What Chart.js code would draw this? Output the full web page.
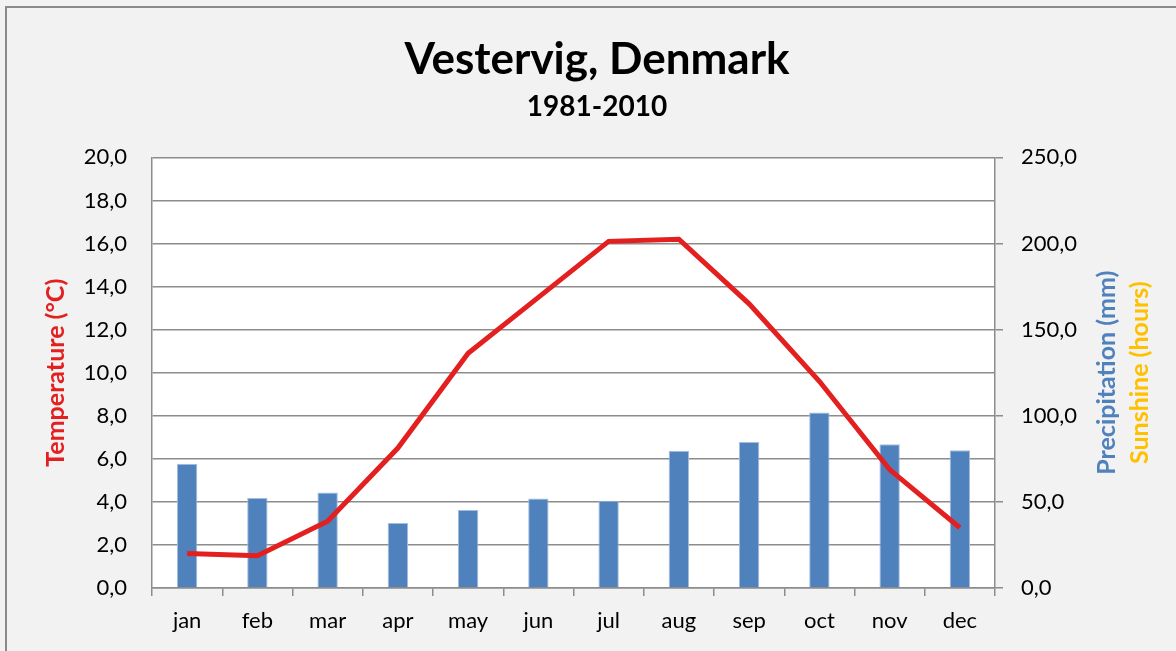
<!DOCTYPE html>
<html>
<head>
<meta charset="utf-8">
<title>Vestervig, Denmark</title>
<script src="https://cdn.jsdelivr.net/npm/chart.js@4.4.0/dist/chart.umd.min.js"></script>
<style>
  html, body { margin: 0; padding: 0; background: #f2f2f2; }
  canvas { display: block; }
</style>
</head>
<body>
<canvas id="climate" width="1176" height="651"></canvas>
<script>
// months and monthly normals
const months = ['jan', 'feb', 'mar', 'apr', 'may', 'jun', 'jul', 'aug', 'sep', 'oct', 'nov', 'dec'];
const temperature = [1.6, 1.5, 3.1, 6.5, 10.9, 13.5, 16.1, 16.2, 13.2, 9.6, 5.5, 2.8];
const precipitation = [72.2, 52.3, 55.4, 37.8, 45.3, 51.9, 50.7, 79.7, 84.7, 101.9, 83.5, 80.0];

const FONT = 'Lato';
const GRID = '#8c8c8c';

const fmt = v => v.toFixed(1).replace('.', ',');

// grey frame + white plot area + right hand axis titles
const decor = {
  id: 'decor',
  beforeDraw(chart) {
    const { ctx, chartArea: a } = chart;
    ctx.save();
    ctx.fillStyle = '#f2f2f2';
    ctx.fillRect(0, 0, chart.width, chart.height);
    ctx.strokeStyle = '#8a8a8a';
    ctx.lineWidth = 2;
    ctx.strokeRect(6, 7, chart.width + 10, chart.height + 10);
    ctx.fillStyle = '#ffffff';
    ctx.fillRect(a.left, a.top, a.right - a.left, a.bottom - a.top);
    ctx.restore();
  },
  afterDraw(chart) {
    const { ctx, chartArea: a } = chart;
    const cy = (a.top + a.bottom) / 2;
    ctx.save();
    ctx.font = 'bold 25px ' + FONT;
    ctx.textAlign = 'center';
    ctx.textBaseline = 'middle';
    ctx.translate(a.right + 112, cy);
    ctx.rotate(-Math.PI / 2);
    ctx.fillStyle = '#4f81bd';
    ctx.fillText('Precipitation (mm)', 0, 0);
    ctx.fillStyle = '#ffc000';
    ctx.fillText('Sunshine (hours)', 0, 33);
    ctx.restore();
  }
};

new Chart(document.getElementById('climate'), {
  data: {
    labels: months,
    datasets: [
      {
        type: 'line',
        label: 'Temperature',
        data: temperature,
        yAxisID: 'y',
        borderColor: '#e3201f',
        borderWidth: 5,
        pointRadius: 0,
        tension: 0,
        order: 1
      },
      {
        type: 'bar',
        label: 'Precipitation',
        data: precipitation,
        yAxisID: 'y2',
        backgroundColor: '#4f81bd',
        borderColor: '#a3bddf',
        borderWidth: 1,
        barPercentage: 0.29,
        categoryPercentage: 1,
        order: 2
      }
    ]
  },
  options: {
    responsive: false,
    animation: false,
    // left padding nudges the centred titles right, as in the original
    layout: { padding: { left: 18, right: 0, top: 0, bottom: 0 } },
    plugins: {
      legend: { display: false },
      tooltip: { enabled: false },
      title: {
        display: true,
        text: 'Vestervig, Denmark',
        color: '#000',
        font: { family: FONT, size: 44, weight: 'bold', lineHeight: 1.2 },
        padding: { top: 33, bottom: 0 }
      },
      subtitle: {
        display: true,
        text: '1981-2010',
        color: '#000',
        font: { family: FONT, size: 28, weight: 'bold', lineHeight: 1.2 },
        padding: { top: 4, bottom: 34 }
      }
    },
    scales: {
      x: {
        grid: { drawOnChartArea: false, drawTicks: true, tickLength: 8, color: GRID, lineWidth: 1.5 },
        border: { display: true, color: GRID, width: 1.5 },
        ticks: { color: '#000', font: { family: FONT, size: 22 }, padding: 12, maxRotation: 0 },
        afterFit(s) { s.height = 63; }
      },
      y: {
        position: 'left',
        min: 0,
        max: 20,
        ticks: { stepSize: 2, color: '#000', font: { family: FONT, size: 22 }, padding: 25, callback: fmt },
        grid: { color: GRID, lineWidth: 1.5, drawTicks: false },
        border: { display: true, color: GRID, width: 1.5 },
        title: {
          display: true,
          text: 'Temperature (°C)',
          color: '#e3201f',
          font: { family: FONT, size: 25, weight: 'bold', lineHeight: 1.2 },
          padding: { top: 23, bottom: 0 }
        },
        afterFit(s) { s.width = 134; }
      },
      y2: {
        position: 'right',
        min: 0,
        max: 250,
        ticks: { stepSize: 50, color: '#000', font: { family: FONT, size: 22 }, padding: 18, callback: fmt },
        grid: { drawOnChartArea: false, drawTicks: true, tickLength: 8, color: GRID, lineWidth: 1.5 },
        border: { display: true, color: GRID, width: 1.5 },
        afterFit(s) { s.width = 181; }
      }
    }
  },
  plugins: [decor]
});
</script>
</body>
</html>
